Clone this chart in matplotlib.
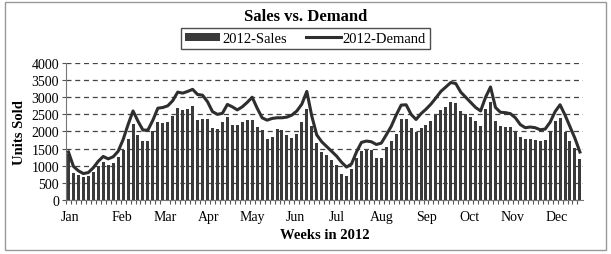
import numpy as np
import matplotlib
matplotlib.use("Agg")
import matplotlib.pyplot as plt
from matplotlib.patches import Rectangle

plt.rcParams['font.family'] = ['Liberation Serif', 'DejaVu Serif']

# weekly sales (bars) and demand (line)
sales = [1340, 800, 715, 660, 700, 820, 1000, 1110, 1030, 1080,
         1250, 1450, 1790, 2230, 1910, 1720, 1720, 2020, 2280, 2250,
         2280, 2460, 2680, 2630, 2660, 2730, 2330, 2370, 2370, 2110,
         2070, 2270, 2410, 2190, 2190, 2290, 2340, 2340, 2140, 2040,
         1790, 1840, 2070, 2040, 1910, 1810, 1940, 2280, 2660, 2170,
         1670, 1400, 1300, 1180, 1030, 760, 690, 910, 1230, 1420,
         1470, 1470, 1230, 1230, 1550, 1720, 1920, 2360, 2360, 2090,
         1970, 2090, 2190, 2310, 2480, 2630, 2720, 2850, 2820, 2610,
         2510, 2410, 2300, 2170, 2660, 2850, 2300, 2170, 2140, 2140,
         1990, 1840, 1770, 1770, 1740, 1720, 1740, 2010, 2300, 2380,
         1970, 1720, 1520, 1190]

demand = [1400, 980, 850, 770, 800, 940, 1130, 1270, 1200, 1260,
          1420, 1760, 2200, 2600, 2300, 2040, 2040, 2330, 2680, 2700,
          2750, 2900, 3150, 3120, 3170, 3230, 3080, 3060, 2870, 2580,
          2500, 2530, 2790, 2720, 2630, 2720, 2850, 3000, 2680, 2400,
          2330, 2380, 2400, 2400, 2420, 2480, 2600, 2800, 3170, 2450,
          1900, 1700, 1560, 1420, 1280, 1100, 960, 1050, 1400, 1680,
          1720, 1700, 1620, 1660, 1900, 2150, 2480, 2770, 2780, 2500,
          2350, 2520, 2650, 2800, 2980, 3170, 3300, 3430, 3400, 3150,
          3000, 2850, 2700, 2600, 3000, 3300, 2700, 2560, 2550, 2520,
          2400, 2200, 2110, 2130, 2110, 2050, 2070, 2270, 2580, 2780,
          2480, 2140, 1800, 1400]

months = ['Jan', 'Feb', 'Mar', 'Apr', 'May', 'Jun',
          'Jul', 'Aug', 'Sep', 'Oct', 'Nov', 'Dec']
month_start = [0.3, 10.8, 19.5, 28.3, 37.1, 45.6, 54.0, 63.1, 72.1, 80.8, 89.4, 98.3]

x = np.arange(len(sales))

fig = plt.figure(figsize=(6.11, 2.55), dpi=100)
ax = fig.add_axes([0.108, 0.212, 0.846, 0.537])

bars = ax.bar(x, sales, width=0.6, color='#3a3a3a', label='2012-Sales', zorder=2)
line, = ax.plot(x, demand, color='#2e2e2e', linewidth=2.2, label='2012-Demand', zorder=3)

ax.set_xlim(-0.5, len(sales) - 0.4)
ax.set_ylim(0, 4000)
ax.set_yticks(np.arange(0, 4001, 500))
ax.yaxis.grid(True, linestyle=(0, (4, 3)), color='#444444', linewidth=0.9)
ax.set_axisbelow(True)

ax.set_xticks(x - 0.5, minor=True)
ax.set_xticks(month_start)
ax.set_xticklabels(months)
ax.tick_params(axis='x', which='major', length=0, pad=7, labelsize=10)
ax.tick_params(axis='x', which='minor', length=3, width=0.8, color='#555555')
ax.tick_params(axis='y', length=3, width=0.8, color='#555555', labelsize=10, pad=2)

for s in ['top', 'right']:
    ax.spines[s].set_visible(False)
ax.spines['left'].set_color('#777777')
ax.spines['bottom'].set_color('#777777')

ax.set_ylabel('Units Sold', fontsize=10.5, fontweight='bold', labelpad=4)
ax.set_xlabel('Weeks in 2012', fontsize=10.5, fontweight='bold', labelpad=4)

fig.text(0.5, 0.935, 'Sales vs. Demand', ha='center', va='center',
         fontsize=12, fontweight='bold')
leg = fig.legend([bars, line], ['2012-Sales', '2012-Demand'],
                 loc='center', bbox_to_anchor=(0.5, 0.845), ncol=2, fontsize=10.5,
                 frameon=True, fancybox=False, edgecolor='#222222',
                 handlelength=2.4, handleheight=0.45, handletextpad=0.15,
                 columnspacing=1.3, borderpad=0.3, borderaxespad=0)
leg.get_frame().set_linewidth(1.0)

fig.patches.append(Rectangle((0.008, 0.015), 0.984, 0.972, transform=fig.transFigure,
                             fill=False, edgecolor='#999999', linewidth=1.0))

fig.savefig('out.png', dpi=100)
